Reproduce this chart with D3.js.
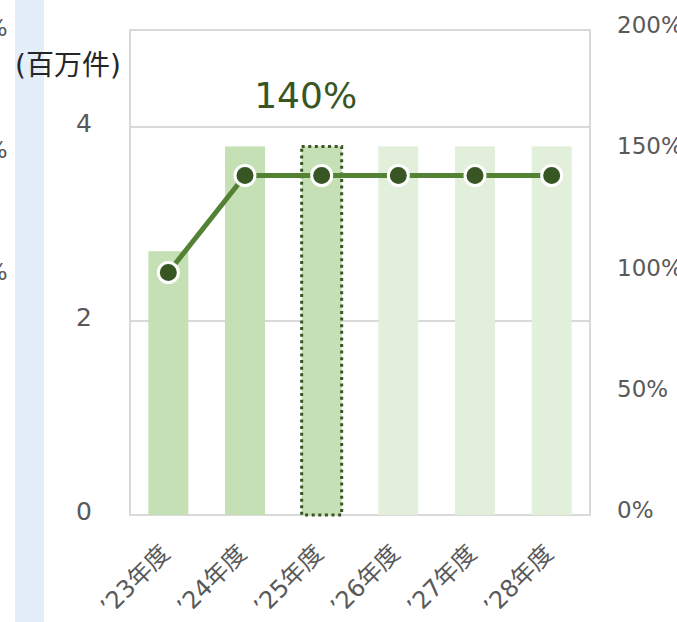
<!DOCTYPE html>
<html><head><meta charset="utf-8">
<script src="https://cdn.jsdelivr.net/npm/d3@7"></script>
<style>body{margin:0;background:#fff;overflow:hidden}svg{display:block}</style>
</head><body>
<script>
const categories = ["’23年度","’24年度","’25年度","’26年度","’27年度","’28年度"];
const barValues = [2.72, 3.8, 3.8, 3.8, 3.8, 3.8];
const rateValues = [1.0, 1.4, 1.4, 1.4, 1.4, 1.4];
const leftTicks = [0, 2, 4];
const rightTicks = [0, 0.5, 1, 1.5, 2];
const highlightIndex = 2;
const highlightLabel = "140%";
const unitLabel = "(百万件)";

const W = 677, H = 622;
const m = {l:130, r:87, t:30, b:107};
const svg = d3.select("body").append("svg").attr("width", W).attr("height", H);
const font = "'DejaVu Sans','Noto Sans CJK JP',sans-serif";

// blue strip at left
svg.append("rect").attr("x",15).attr("y",0).attr("width",29).attr("height",H).attr("fill","#e3eef8");

// clipped labels from neighbor chart
[0,1,2].forEach(i=>{
  svg.append("text").attr("x",7.5).attr("y",[36,158,280][i]).attr("text-anchor","end")
    .attr("font-family",font).attr("font-size",23).attr("fill","#595959").text("100%");
});

const x = d3.scaleBand().domain(categories).range([m.l, W-m.r]).paddingInner(0.478).paddingOuter(0.239);
const yL = d3.scaleLinear().domain([0,5]).range([H-m.b, m.t]);
const yR = d3.scaleLinear().domain([0,2]).range([H-m.b, m.t]);

// plot box
svg.append("rect").attr("x",m.l).attr("y",m.t).attr("width",W-m.r-m.l).attr("height",H-m.b-m.t)
  .attr("fill","none").attr("stroke","#d9d9d9").attr("stroke-width",2);
// gridlines
svg.append("g").selectAll("line").data(leftTicks.filter(d=>d>0)).join("line")
  .attr("x1",m.l).attr("x2",W-m.r).attr("y1",d=>yL(d)).attr("y2",d=>yL(d))
  .attr("stroke","#d9d9d9").attr("stroke-width",2);

// bars
svg.append("g").selectAll("rect").data(barValues).join("rect")
  .attr("x",(d,i)=>x(categories[i])).attr("width",x.bandwidth())
  .attr("y",d=>yL(d)).attr("height",d=>yL(0)-yL(d))
  .attr("fill",(d,i)=> i<=highlightIndex ? "#c5e0b4" : "#e2efda");
// highlight border
svg.append("rect").attr("x",x(categories[highlightIndex])).attr("width",x.bandwidth())
  .attr("y",yL(barValues[highlightIndex])).attr("height",yL(0)-yL(barValues[highlightIndex]))
  .attr("fill","none").attr("stroke","#375623").attr("stroke-width",3).attr("stroke-dasharray","3 3.6");

// line
const cx = i => x(categories[i]) + x.bandwidth()/2;
svg.append("path").datum(rateValues)
  .attr("d", d3.line().x((d,i)=>cx(i)).y(d=>yR(d)))
  .attr("fill","none").attr("stroke","#548235").attr("stroke-width",5);
svg.append("g").selectAll("circle").data(rateValues).join("circle")
  .attr("cx",(d,i)=>cx(i)).attr("cy",d=>yR(d)).attr("r",10)
  .attr("fill","#375623").attr("stroke","#fff").attr("stroke-width",3);

// highlight label
svg.append("text").attr("x",cx(highlightIndex)-16).attr("y",108).attr("text-anchor","middle")
  .attr("font-family",font).attr("font-size",36).attr("fill","#375623").text(highlightLabel);

// left axis labels
svg.append("g").selectAll("text").data(leftTicks).join("text")
  .attr("x",84).attr("y",d=>yL(d)+5).attr("text-anchor","middle")
  .attr("font-family",font).attr("font-size",25).attr("fill","#595959").text(d=>d);
svg.append("text").attr("x",15).attr("y",75).attr("font-family",font).attr("font-size",28)
  .attr("fill","#262626").text(unitLabel);

// right axis labels
svg.append("g").selectAll("text").data(rightTicks).join("text")
  .attr("x",617).attr("y",d=>yR(d)+3).attr("text-anchor","start")
  .attr("font-family",font).attr("font-size",23).attr("fill","#595959").text(d=>d3.format(".0%")(d));

// category labels
svg.append("g").selectAll("text").data(categories).join("text")
  .attr("transform",(d,i)=>`translate(${cx(i)+3},${555}) rotate(-45)`)
  .attr("text-anchor","end").attr("font-family",font).attr("font-size",24).attr("fill","#595959").text(d=>d);
</script>
</body></html>
